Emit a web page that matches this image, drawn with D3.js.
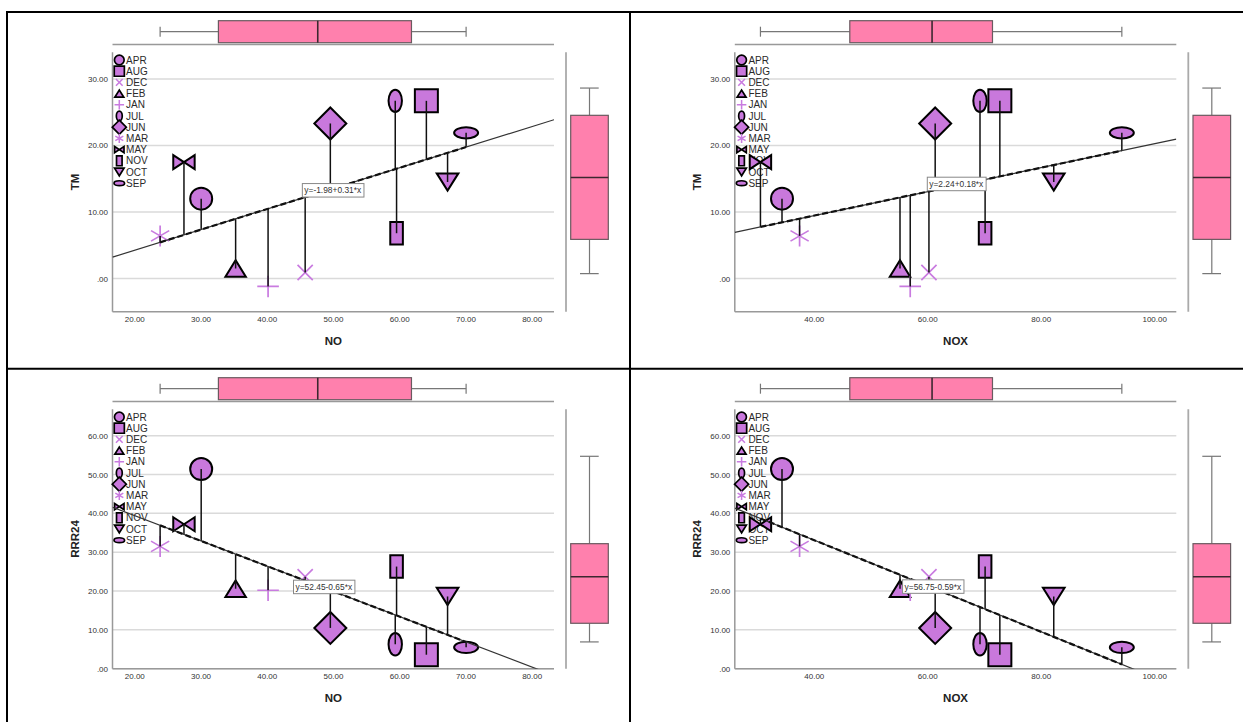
<!DOCTYPE html>
<html><head><meta charset="utf-8">
<script src="https://cdn.jsdelivr.net/npm/d3@7"></script>
<style>html,body{margin:0;padding:0;background:#fff;} svg{display:block;font-family:"Liberation Sans",Arial,sans-serif;}</style>
</head><body><svg id="c" width="1243" height="722"></svg>
<script>
// ---------- data ----------
const months = ["APR","AUG","DEC","FEB","JAN","JUL","JUN","MAR","MAY","NOV","OCT","SEP"];
const noVals  = [30.1, 64.1, 45.8, 35.3, 40.2, 59.4, 49.6, 23.9, 27.5, 59.6, 67.3, 70.1];
const noxVals = [34.4, 72.8, 60.3, 55.2, 57.0, 69.3, 61.4, 37.5, 30.6, 70.2, 82.3, 94.3];
const tmVals  = [12.0, 26.7, 0.9, 1.5, -1.2, 26.7, 23.3, 6.4, 17.5, 6.8, 14.5, 21.9];
const rrrVals = [51.4, 3.6, 23.7, 20.6, 20.2, 6.3, 10.5, 31.5, 37.2, 26.3, 18.6, 5.5];
const fitIntercepts = [-1.98, 2.24, 52.45, 56.75];
const fitSlopes     = [0.31, 0.18, -0.65, -0.59];
const noTicks  = [20, 30, 40, 50, 60, 70, 80];
const noxTicks = [40, 60, 80, 100];
const tmTicks  = [0, 10, 20, 30];
const rrrTicks = [0, 10, 20, 30, 40, 50, 60];

// ---------- layout ----------
const svg = d3.select("#c");
const PL = 112.5, PR = 554, PT = 52.3, PB = 311.7;
const FILL = "#C978DC", LINEC = "#C97BE0", BOXF = "#FF80AD";
const fmt = d => d === 0 ? ".00" : d.toFixed(2);

const panels = [
  {xv: noVals,  yv: tmVals,  xName: "NO",  yName: "TM",    xTicks: noTicks,  yTicks: tmTicks,  xDom: [16.71, 83.37], yDom: [-5, 34.0], dx: 0,     dy: 0,   labelFrac: 0.43},
  {xv: noxVals, yv: tmVals,  xName: "NOX", yName: "TM",    xTicks: noxTicks, yTicks: tmTicks,  xDom: [26.08, 103.9], yDom: [-5, 34.0], dx: 622.3, dy: 0,   labelFrac: 0.436},
  {xv: noVals,  yv: rrrVals, xName: "NO",  yName: "RRR24", xTicks: noTicks,  yTicks: rrrTicks, xDom: [16.71, 83.37], yDom: [0, 66.8],  dx: 0,     dy: 357, labelFrac: 0.41},
  {xv: noxVals, yv: rrrVals, xName: "NOX", yName: "RRR24", xTicks: noxTicks, yTicks: rrrTicks, xDom: [26.08, 103.9], yDom: [0, 66.8],  dx: 622.3, dy: 357, labelFrac: 0.38}
];

// marker geometry
function ell(rx, ry){ return `M${-rx},0A${rx},${ry} 0 1,0 ${rx},0A${rx},${ry} 0 1,0 ${-rx},0Z`; }
function marker(name, s){
  switch(name){
    case "APR": return {d: ell(11*s, 11*s), line: false};
    case "AUG": { const h = 11.5*s; return {d: `M${-h},${-h}H${h}V${h}H${-h}Z`, line: false}; }
    case "DEC": { const h = 7.6*s; return {d: `M${-h},${-h}L${h},${h}M${h},${-h}L${-h},${h}`, line: true}; }
    case "FEB": { const w = 10.2*s, h = 8.2*s; return {d: `M${-w},${h}L${w},${h}L0,${-h}Z`, line: false}; }
    case "JAN": { const h = 10.8*s; return {d: `M${-h},0H${h}M0,${-h}V${h}`, line: true}; }
    case "JUL": return {d: ell(6.7*s, 11.2*s), line: false};
    case "JUN": { const h = 16*s; return {d: `M0,${-h}L${h},0L0,${h}L${-h},0Z`, line: false}; }
    case "MAR": { const r = 10.5*s; let p = "";
      [90, 30, 150].forEach(a => { const c = Math.cos(a*Math.PI/180)*r, sn = Math.sin(a*Math.PI/180)*r; p += `M${-c},${sn}L${c},${-sn}`; });
      return {d: p, line: true}; }
    case "MAY": { const w = 10.7*s, h = 7*s; return {d: `M${-w},${-h}L${w},${h}L${w},${-h}L${-w},${h}Z`, line: false}; }
    case "NOV": { const w = 6.3*s, h = 11.3*s; return {d: `M${-w},${-h}H${w}V${h}H${-w}Z`, line: false}; }
    case "OCT": { const w = 10.8*s, h = 8.6*s; return {d: `M${-w},${-h}L${w},${-h}L0,${h}Z`, line: false}; }
    case "SEP": return {d: ell(12*s, 5.6*s), line: false};
  }
}
function drawMarker(g, name, x, y, s, sw){
  const m = marker(name, s);
  g.append("path").attr("d", m.d).attr("transform", `translate(${x},${y})`)
    .attr("fill", m.line ? "none" : FILL)
    .attr("stroke", m.line ? LINEC : "#000")
    .attr("stroke-width", m.line ? 1.7*Math.max(s,0.9) : sw)
    .attr("stroke-linejoin", "miter");
}

function hinges(vals){
  const s = vals.slice().sort((a,b)=>a-b), n = s.length;
  const med = d3.median(s);
  const half = Math.floor((n+1)/2);
  const lower = s.slice(0, n % 2 ? half : n/2), upper = s.slice(n % 2 ? half-1 : n/2);
  return {min: s[0], q1: d3.median(lower), med, q3: d3.median(upper), max: s[n-1]};
}

// ---------- table frame ----------
const frame = svg.append("g").attr("stroke", "#000").attr("stroke-width", 2);
frame.append("line").attr("x1", 6).attr("x2", 1243).attr("y1", 12).attr("y2", 12);
frame.append("line").attr("x1", 7).attr("x2", 7).attr("y1", 11).attr("y2", 722);
frame.append("line").attr("x1", 630).attr("x2", 630).attr("y1", 11).attr("y2", 722);
frame.append("line").attr("x1", 6).attr("x2", 1243).attr("y1", 368.7).attr("y2", 368.7);

panels.forEach((p, i) => {
  const g = svg.append("g").attr("transform", `translate(${p.dx},${p.dy})`);
  const x = d3.scaleLinear().domain(p.xDom).range([PL, PR]);
  const y = d3.scaleLinear().domain(p.yDom).range([PB, PT]);
  const clipId = "clip" + i;
  g.append("clipPath").attr("id", clipId).append("rect").attr("x", PL).attr("y", PT).attr("width", PR-PL).attr("height", PB-PT);

  // gridlines
  g.append("g").selectAll("line").data(p.yTicks).join("line")
    .attr("x1", PL).attr("x2", PR).attr("y1", d => y(d)).attr("y2", d => y(d))
    .attr("stroke", "#dadada").attr("stroke-width", 1.5);

  // axes via d3 axis (labels only)
  const ya = g.append("g").attr("transform", `translate(${PL},0)`)
    .call(d3.axisLeft(y).tickValues(p.yTicks).tickFormat(fmt).tickSize(0).tickPadding(4.5));
  const xa = g.append("g").attr("transform", `translate(0,${PB})`)
    .call(d3.axisBottom(x).tickValues(p.xTicks).tickFormat(fmt).tickSize(0).tickPadding(5));
  [ya, xa].forEach(a => {
    a.select(".domain").remove();
    a.selectAll("text").attr("font-size", 8).attr("fill", "#333").attr("font-family", "'Liberation Sans',Arial,sans-serif");
  });
  g.append("line").attr("x1", PL).attr("x2", PL).attr("y1", PT).attr("y2", PB).attr("stroke", "#999").attr("stroke-width", 1.5);
  g.append("line").attr("x1", PL).attr("x2", PR).attr("y1", PB).attr("y2", PB).attr("stroke", "#999").attr("stroke-width", 1.5);

  // axis titles
  g.append("text").attr("x", (PL+PR)/2).attr("y", 345).attr("text-anchor", "middle")
    .attr("font-size", 11.5).attr("font-weight", "bold").attr("fill", "#222").text(p.xName);
  g.append("text").attr("transform", `translate(79,${(PT+PB)/2}) rotate(-90)`).attr("text-anchor", "middle")
    .attr("font-size", 11.5).attr("font-weight", "bold").attr("fill", "#222").text(p.yName);

  // top marginal boxplot (x variable)
  const bx = hinges(p.xv);
  const tb = g.append("g");
  tb.append("line").attr("x1", PL).attr("x2", PR).attr("y1", 44.5).attr("y2", 44.5).attr("stroke", "#999").attr("stroke-width", 1.5);
  tb.append("line").attr("x1", x(bx.min)).attr("x2", x(bx.q1)).attr("y1", 31.7).attr("y2", 31.7).attr("stroke", "#777").attr("stroke-width", 1.2);
  tb.append("line").attr("x1", x(bx.q3)).attr("x2", x(bx.max)).attr("y1", 31.7).attr("y2", 31.7).attr("stroke", "#777").attr("stroke-width", 1.2);
  [bx.min, bx.max].forEach(v => tb.append("line").attr("x1", x(v)).attr("x2", x(v)).attr("y1", 26.7).attr("y2", 36.7).attr("stroke", "#777").attr("stroke-width", 1.2));
  tb.append("rect").attr("x", x(bx.q1)).attr("y", 20.7).attr("width", x(bx.q3)-x(bx.q1)).attr("height", 22)
    .attr("fill", BOXF).attr("stroke", "#6a5a60").attr("stroke-width", 1.2);
  tb.append("line").attr("x1", x(bx.med)).attr("x2", x(bx.med)).attr("y1", 20.7).attr("y2", 42.7).attr("stroke", "#3c2830").attr("stroke-width", 1.6);

  // right marginal boxplot (y variable)
  const by = hinges(p.yv);
  const rb = g.append("g");
  const yb = v => y(v) - 12.8;
  const lx = PR + 12, cx = 589.5;
  rb.append("line").attr("x1", lx).attr("x2", lx).attr("y1", PT).attr("y2", PB).attr("stroke", "#aaa").attr("stroke-width", 1.8);
  rb.append("line").attr("x1", cx).attr("x2", cx).attr("y1", yb(by.max)).attr("y2", yb(by.q3)).attr("stroke", "#777").attr("stroke-width", 1.2);
  rb.append("line").attr("x1", cx).attr("x2", cx).attr("y1", yb(by.q1)).attr("y2", yb(by.min)).attr("stroke", "#777").attr("stroke-width", 1.2);
  [by.min, by.max].forEach(v => rb.append("line").attr("x1", 580).attr("x2", 598.7).attr("y1", yb(v)).attr("y2", yb(v)).attr("stroke", "#777").attr("stroke-width", 1.2));
  rb.append("rect").attr("x", 570.7).attr("y", yb(by.q3)).attr("width", 37.6).attr("height", yb(by.q1)-yb(by.q3))
    .attr("fill", BOXF).attr("stroke", "#6a5a60").attr("stroke-width", 1.2);
  rb.append("line").attr("x1", 570.7).attr("x2", 608.3).attr("y1", yb(by.med)).attr("y2", yb(by.med)).attr("stroke", "#3c2830").attr("stroke-width", 1.6);

  // legend
  const lg = g.append("g");
  months.forEach((m, k) => {
    const ly = PT + 7.7 + k*11.2;
    drawMarker(lg, m, PL + 6.8, ly, 0.44, 1.7);
    lg.append("text").attr("x", PL + 13.6).attr("y", ly).attr("dy", "0.36em").attr("font-size", 10).attr("fill", "#2a2a2a").text(m);
  });

  // points
  const b0 = fitIntercepts[i], b1 = fitSlopes[i];
  const fit = v => b0 + b1*v;
  const pts = g.append("g");
  months.forEach((m, k) => drawMarker(pts, m, x(p.xv[k]), y(p.yv[k]), 1, 2));
  // residual lines
  g.append("g").selectAll("line").data(months.map((m,k)=>k)).join("line")
    .attr("x1", k => x(p.xv[k])).attr("x2", k => x(p.xv[k]))
    .attr("y1", k => y(p.yv[k])).attr("y2", k => y(fit(p.xv[k])))
    .attr("stroke", "#111").attr("stroke-width", 1.5);

  // fit line
  const fl = g.append("g").attr("clip-path", `url(#${clipId})`);
  fl.append("line").attr("x1", x(p.xDom[0])).attr("x2", x(p.xDom[1]))
    .attr("y1", y(fit(p.xDom[0]))).attr("y2", y(fit(p.xDom[1])))
    .attr("stroke", "#333").attr("stroke-width", 1.2);
  const [xmn, xmx] = d3.extent(p.xv);
  fl.append("line").attr("x1", x(xmn)).attr("x2", x(xmx))
    .attr("y1", y(fit(xmn))).attr("y2", y(fit(xmx)))
    .attr("stroke", "#111").attr("stroke-width", 2.2).attr("stroke-dasharray", "6,3");

  // equation label
  const txt = `y=${b0.toFixed(2)}${b1 < 0 ? "-" : "+"}${Math.abs(b1).toFixed(2)}*x`;
  const lxp = PL + p.labelFrac*(PR-PL);
  const lyp = y(fit(x.invert(lxp)));
  const lab = g.append("g");
  const t = lab.append("text").attr("font-size", 8.4).attr("fill", "#333").text(txt);
  const bb = t.node().getBBox();
  const bw = bb.width + 4, bh = 13.5;
  const top = b1 > 0 ? lyp - 1 - bh : lyp + 4;
  lab.insert("rect", "text").attr("x", lxp).attr("y", top).attr("width", bw).attr("height", bh)
    .attr("fill", "#fff").attr("stroke", "#888").attr("stroke-width", 1);
  t.attr("x", lxp + 2).attr("y", top + bh/2).attr("dy", "0.35em");
});
</script></body></html>
